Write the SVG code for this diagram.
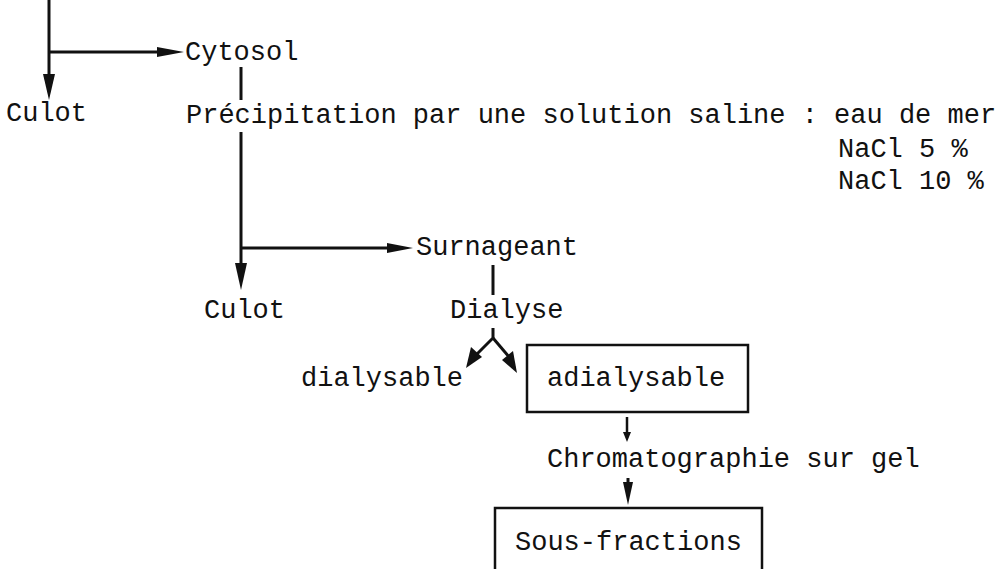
<svg xmlns="http://www.w3.org/2000/svg" width="1007" height="569" viewBox="0 0 1007 569">
<style>
text{font-family:"Liberation Mono","DejaVu Sans Mono",monospace;font-size:27px;fill:#111}
.ln{stroke:#111;stroke-width:3;fill:none}
.hd{fill:#111;stroke:none}
.box{fill:#fff;stroke:#111;stroke-width:2.5}
</style>
<rect width="1007" height="569" fill="#fff"/>
<g id="connectors">
<line class="ln" x1="49" y1="0" x2="49" y2="80"/>
<polygon class="hd" points="43,74 55,74 49,100"/>
<line class="ln" x1="49" y1="52" x2="162" y2="52"/>
<polygon class="hd" points="157,47 157,57 184,52"/>
<line class="ln" x1="241" y1="67" x2="241" y2="100"/>
<line class="ln" x1="241" y1="132" x2="241" y2="270"/>
<polygon class="hd" points="235,263 247,263 241,290"/>
<line class="ln" x1="241" y1="248" x2="392" y2="248"/>
<polygon class="hd" points="387,243 387,253 413,248"/>
<line class="ln" x1="493" y1="265" x2="493" y2="295"/>
<path class="ln" d="M493,328 L493,338 L475,356"/>
<polygon class="hd" points="466,368 471,347 482,357"/>
<path class="ln" d="M493,338 L510,358"/>
<polygon class="hd" points="517,373 502,360 513,351"/>
<line class="ln" x1="627" y1="417" x2="627" y2="436" style="stroke-width:2.5"/>
<polygon class="hd" points="623,432 631,432 627,442"/>
<line class="ln" x1="628" y1="478" x2="628" y2="490"/>
<polygon class="hd" points="623,482 633,482 628,505"/>
</g>
<g id="top-culot"><text x="6" y="121">Culot</text></g>
<g id="cytosol"><text x="185" y="60">Cytosol</text></g>
<g id="precipitation">
<text x="186" y="123">Précipitation par une solution saline : eau de mer</text>
<text x="838" y="157">NaCl 5 %</text>
<text x="838" y="189">NaCl 10 %</text>
</g>
<g id="culot2"><text x="204" y="318">Culot</text></g>
<g id="surnageant"><text x="416" y="255">Surnageant</text></g>
<g id="dialyse"><text x="450" y="318">Dialyse</text></g>
<g id="dialysable"><text x="301" y="386">dialysable</text></g>
<g id="adialysable">
<rect class="box" x="527" y="345" width="221" height="67"/>
<text x="547" y="386">adialysable</text>
</g>
<g id="chromatographie"><text x="547" y="467">Chromatographie sur gel</text></g>
<g id="sous-fractions">
<rect class="box" x="495" y="508" width="267" height="80"/>
<text x="515" y="550">Sous-fractions</text>
</g>
</svg>
